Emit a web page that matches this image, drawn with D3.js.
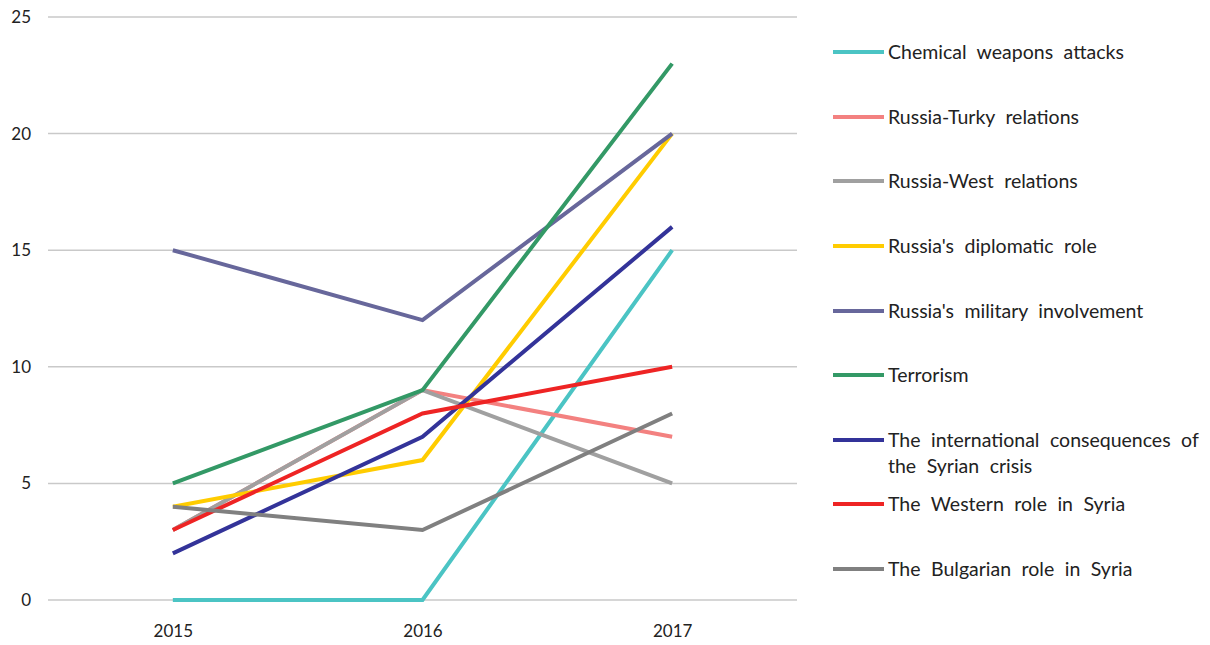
<!DOCTYPE html>
<html>
<head>
<meta charset="utf-8">
<script src="https://cdn.jsdelivr.net/npm/d3@7"></script>
<style>
  html, body { margin: 0; padding: 0; background: #fff; }
  svg { display: block; font-family: Lato, "Open Sans", sans-serif; }
</style>
</head>
<body>
<svg id="chart" width="1210" height="645"></svg>
<script>
// Years on the x axis
const years = ["2015", "2016", "2017"];
// Y axis tick values
const yTicks = [0, 5, 10, 15, 20, 25];

// Topic series (counts per year)
const chemicalWeapons   = [0, 0, 15];
const russiaTurky       = [3, 9, 7];
const russiaWest        = [3, 9, 5];
const diplomaticRole    = [4, 6, 20];
const militaryInvolve   = [15, 12, 20];
const terrorism         = [5, 9, 23];
const intlConsequences  = [2, 7, 16];
const westernRole       = [3, 8, 10];
const bulgarianRole     = [4, 3, 8];

const seriesNames = [
  "Chemical weapons attacks",
  "Russia-Turky relations",
  "Russia-West relations",
  "Russia's diplomatic role",
  "Russia's military involvement",
  "Terrorism",
  "The international consequences of the Syrian crisis",
  "The Western role in Syria",
  "The Bulgarian role in Syria"
];
const seriesValues = [
  chemicalWeapons, russiaTurky, russiaWest, diplomaticRole, militaryInvolve,
  terrorism, intlConsequences, westernRole, bulgarianRole
];
const seriesColors = [
  "#4bc4c4", "#f38180", "#a0a0a0", "#ffcc00", "#67679b",
  "#339966", "#333399", "#ee2424", "#808080"
];

const series = seriesNames.map((name, i) => ({
  name, color: seriesColors[i],
  values: years.map((y, j) => ({ year: y, value: seriesValues[i][j] }))
}));

const svg = d3.select("#chart");
const plot = { left: 48, right: 797, top: 17, bottom: 600 };

const x = d3.scalePoint().domain(years).range([plot.left, plot.right]).padding(0.5);
const y = d3.scaleLinear().domain([0, 25]).range([plot.bottom, plot.top]);

// Horizontal gridlines
svg.append("g")
  .selectAll("line")
  .data(yTicks)
  .join("line")
  .attr("x1", plot.left).attr("x2", plot.right)
  .attr("y1", d => y(d)).attr("y2", d => y(d))
  .attr("stroke", "#c9c9c9").attr("stroke-width", 1.5);

// Y axis labels
const yAxis = d3.axisLeft(y).tickValues(yTicks).tickSize(0).tickPadding(0);
svg.append("g")
  .attr("transform", `translate(${plot.left - 17},0)`)
  .call(yAxis)
  .call(g => g.select(".domain").remove())
  .call(g => g.selectAll("text")
    .attr("font-size", 17).attr("fill", "#222")
    .attr("font-family", "Lato, sans-serif"));

// X axis labels
const xAxis = d3.axisBottom(x).tickSize(0).tickPadding(0);
svg.append("g")
  .attr("transform", `translate(0,${plot.bottom + 25})`)
  .call(xAxis)
  .call(g => g.select(".domain").remove())
  .call(g => g.selectAll("text")
    .attr("font-size", 17).attr("fill", "#222")
    .attr("font-family", "Lato, sans-serif"));

// Lines
const line = d3.line().x(d => x(d.year)).y(d => y(d.value));
svg.append("g")
  .selectAll("path")
  .data(series)
  .join("path")
  .attr("d", d => line(d.values))
  .attr("fill", "none")
  .attr("stroke", d => d.color)
  .attr("stroke-width", 4)
  .attr("stroke-linejoin", "miter");

// Legend
const legendRows = [52, 117, 181, 246, 311, 375, 440, 504, 569];
const legendLines = [
  ["Chemical weapons attacks"],
  ["Russia-Turky relations"],
  ["Russia-West relations"],
  ["Russia's diplomatic role"],
  ["Russia's military involvement"],
  ["Terrorism"],
  ["The international consequences of", "the Syrian crisis"],
  ["The Western role in Syria"],
  ["The Bulgarian role in Syria"]
];
const legend = svg.append("g");
const item = legend.selectAll("g")
  .data(series)
  .join("g")
  .attr("transform", (d, i) => `translate(833,${legendRows[i]})`);
item.append("line")
  .attr("x1", 0).attr("x2", 51)
  .attr("y1", 0).attr("y2", 0)
  .attr("stroke", d => d.color).attr("stroke-width", 4);
item.append("text")
  .attr("x", 55).attr("y", 0)
  .attr("font-size", 19.5)
  .attr("fill", "#222")
  .attr("word-spacing", 5.5)
  .selectAll("tspan")
  .data((d, i) => legendLines[i])
  .join("tspan")
  .attr("x", 55)
  .attr("dy", (d, j) => j === 0 ? "0.35em" : 26)
  .text(d => d);
</script>
</body>
</html>
